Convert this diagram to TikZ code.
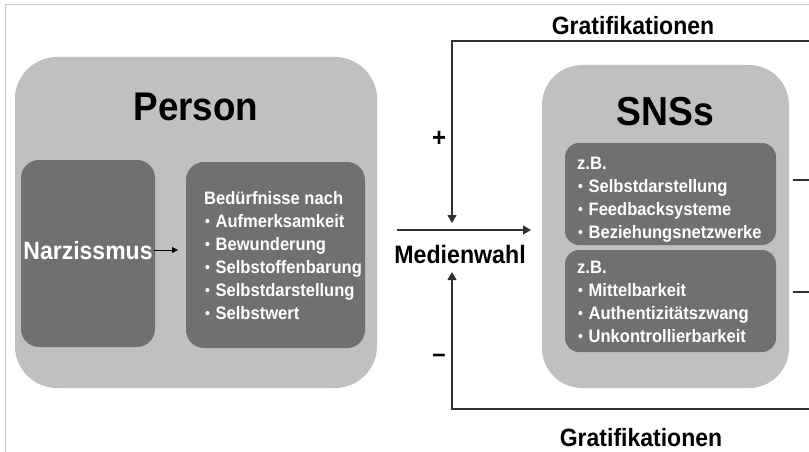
\documentclass[tikz,border=0pt]{standalone}
\usepackage{fontspec}
\setmainfont{Liberation Sans}[FakeStretch=0.92]
\usetikzlibrary{arrows.meta}
\definecolor{outerg}{HTML}{C0C0C0}
\definecolor{innerg}{HTML}{707070}
\definecolor{frameg}{HTML}{C8C8C8}
\definecolor{lineg}{HTML}{303030}
\newcommand{\bul}{\hspace*{1pt}{\fontsize{15}{15}\selectfont\raisebox{0.8pt}{•}}\hspace{1pt}\ }
\tikzset{
  outerbox/.style={fill=outerg, draw=none, rounded corners=42pt, inner sep=0pt},
  innerbox/.style={fill=innerg, draw=none, rounded corners=18pt, inner sep=0pt},
  smallbox/.style={fill=innerg, draw=none, rounded corners=14pt, inner sep=0pt},
  titletext/.style={font=\fontsize{40}{42}\selectfont\bfseries, text=black, inner sep=0pt},
  listtext/.style={font=\fontsize{18}{23}\selectfont\bfseries, text=white, align=left, inner sep=0pt, anchor=north west},
  labeltext/.style={font=\fontsize{25.2}{27}\selectfont\bfseries, text=black, inner sep=0pt},
  gratext/.style={font=\fontsize{25}{27}\selectfont\bfseries, text=black, inner sep=0pt},
  signtext/.style={font=\fontsize{26}{28}\selectfont\bfseries, text=black, inner sep=0pt},
  conn/.style={draw=lineg, line width=1.1pt},
  tip/.style={-{Triangle[length=8pt,width=9pt]}},
}
\begin{document}
\begin{tikzpicture}[x=1pt,y=-1pt]
\useasboundingbox (0,0) rectangle (809,452);
% frame
\draw[frameg, line width=1pt] (5,452) -- (5,5) -- (809,5);

% Person
\node[outerbox, minimum width=362pt, minimum height=331pt] (person) at (196,222.5) {};
\node[titletext] (persontitle) at (196,106.5) {Person};
\node[innerbox, minimum width=134pt, minimum height=187pt] (narzbox) at (88,253.5) {};
\node[font=\fontsize{25}{27}\selectfont\bfseries, text=white, inner sep=0pt] (narz) at (88,251) {Narzissmus};
\node[innerbox, minimum width=179pt, minimum height=186pt] (bed) at (275.5,255) {};
\node[listtext] (bedtext) at (204,191) {Bedürfnisse nach\\ \bul Aufmerksamkeit\\ \bul Bewunderung\\ \bul Selbstoffenbarung\\ \bul Selbstdarstellung\\ \bul Selbstwert};
\coordinate (na1) at (154,250);
\coordinate (na2) at (178,250);
\draw[black, line width=1pt, -{Triangle[length=6pt,width=6pt]}] (na1) -- (na2);

% SNSs
\node[outerbox, minimum width=247pt, minimum height=323pt, rounded corners=40pt] (sns) at (665.5,226.5) {};
\node[titletext, font=\fontsize{40.5}{42}\selectfont\bfseries] (snstitle) at (665.5,112) {SNSs};
\node[smallbox, minimum width=211pt, minimum height=102pt] (sns1) at (670.5,194) {};
\node[listtext] (sns1text) at (577,157) {z.B.\\ \bul Selbstdarstellung\\ \bul Feedbacksysteme\\ \bul Beziehungsnetzwerke};
\node[smallbox, minimum width=211pt, minimum height=102pt] (sns2) at (670.5,301) {};
\node[listtext] (sns2text) at (577,260.5) {z.B.\\ \bul Mittelbarkeit\\ \bul Authentizitätszwang\\ \bul Unkontrollierbarkeit};

% Medienwahl
\node[labeltext] (medien) at (460,254) {Medienwahl};
\coordinate (m1) at (397,230);
\coordinate (m2) at (531,230);
\draw[conn, tip] (m1) -- (m2);

% feedback loops
\coordinate (tr) at (809,41);
\coordinate (tl) at (452,41);
\coordinate (ttip) at (452,223);
\coordinate (br) at (809,409);
\coordinate (bl) at (452,409);
\coordinate (btip) at (452,272);
\draw[conn, tip] (tr) -- (tl) -- (ttip);
\draw[conn, tip] (br) -- (bl) -- (btip);
\node[gratext] (gtop) at (633,26) {Gratifikationen};
\node[gratext] (gbot) at (641,438) {Gratifikationen};
\node[signtext] (plus) at (439,139) {+};
\node[signtext] (minus) at (439,358) {–};

% stubs to the right
\coordinate (s1a) at (793,180);
\coordinate (s1b) at (809,180);
\coordinate (s2a) at (793,292);
\coordinate (s2b) at (809,292);
\draw[conn] (s1a) -- (s1b);
\draw[conn] (s2a) -- (s2b);
\end{tikzpicture}
\end{document}
